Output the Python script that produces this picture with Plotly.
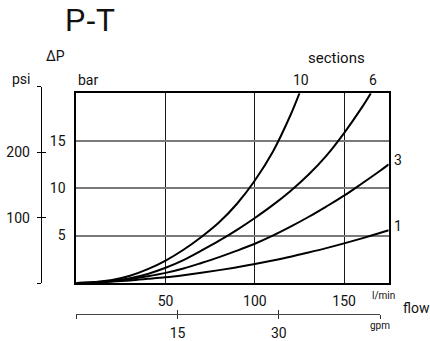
import plotly.graph_objects as go

W, H = 430, 341

# ---- data ----
flow = [0, 10, 20, 30, 40, 50, 60, 70, 80, 90, 100, 110, 120, 130, 140, 150, 160, 170, 175]
sec1 = [0, 0.06, 0.15, 0.27, 0.43, 0.6, 0.82, 1.07, 1.35, 1.66, 2.0, 2.37, 2.77, 3.21, 3.67, 4.17, 4.7, 5.26, 5.55]
sec3 = [0, 0.05, 0.18, 0.4, 0.7, 1.06, 1.52, 2.1, 2.72, 3.4, 4.13, 4.98, 5.93, 6.95, 8.05, 9.2, 10.48, 11.8, 12.5]
flow6 = [0, 10, 20, 30, 40, 50, 60, 70, 80, 90, 100, 110, 120, 130, 140, 150, 160, 165]
sec6 = [0, 0.05, 0.2, 0.5, 0.95, 1.6, 2.4, 3.4, 4.45, 5.6, 6.85, 8.2, 9.7, 11.4, 13.4, 15.8, 18.5, 20]
flow10 = [0, 10, 20, 30, 40, 50, 60, 70, 80, 90, 100, 110, 120, 125]
sec10 = [0, 0.08, 0.3, 0.75, 1.45, 2.36, 3.5, 4.85, 6.4, 8.35, 10.8, 13.8, 17.7, 20]

series = [("10", flow10, sec10), ("6", flow6, sec6), ("3", flow, sec3), ("1", flow, sec1)]

bar_ticks = [5, 10, 15]
flow_ticks = [50, 100, 150]
psi_ticks = [0, 100, 200, 300]
psi_text = ["", "100", "200", ""]
gpm_ticks = [0, 15, 30, 45]
gpm_text = ["", "15", "30", ""]

FONT = "Liberation Sans Narrow, Roboto, sans-serif"
TXT = "#111"

def px(x):
    return x / W

def py(y):
    return 1 - y / H

fig = go.Figure()
for name, xs, ys in series:
    fig.add_trace(go.Scatter(x=xs, y=ys, mode="lines", line=dict(color="black", width=2, shape="spline"),
                             showlegend=False, hoverinfo="skip", cliponaxis=True))

# dummy traces to carry the secondary (psi / gpm) scales
fig.add_trace(go.Scatter(x=[None], y=[None], xaxis="x2", yaxis="y2", showlegend=False, hoverinfo="skip"))
fig.add_trace(go.Scatter(x=[None], y=[None], xaxis="x3", yaxis="y3", showlegend=False, hoverinfo="skip"))

x_dom = [px(76.4), px(388.7)]
y_dom = [py(286.3), py(94.3)]

fig.update_layout(
    width=W, height=H, margin=dict(l=0, r=0, t=0, b=0),
    paper_bgcolor="white", plot_bgcolor="rgba(0,0,0,0)",
    font=dict(family=FONT, color=TXT, size=14),
    xaxis=dict(domain=x_dom, range=[0, 175], tickvals=flow_ticks, showgrid=True, gridcolor="#1a1a1a",
               gridwidth=1, showline=True, linecolor="black", linewidth=2, mirror=True, ticks="",
               zeroline=False, tickfont=dict(size=14, family=FONT, color=TXT), ticklabelstandoff=4,
               fixedrange=True),
    yaxis=dict(domain=y_dom, range=[0, 20], tickvals=bar_ticks, showgrid=True, gridcolor="#7a7a7a",
               gridwidth=2, showline=True, linecolor="black", linewidth=2, mirror=True, ticks="",
               zeroline=False, tickfont=dict(size=14, family=FONT, color=TXT), ticklabelstandoff=6,
               fixedrange=True),
    # psi scale
    yaxis2=dict(domain=[py(286.7), py(88)], range=[0, 300], anchor="free", position=px(40.7),
                tickvals=psi_ticks, ticktext=psi_text, ticks="outside", ticklen=4, tickwidth=1,
                tickcolor="black", showline=True, linecolor="black", linewidth=1, showgrid=False,
                zeroline=False, tickfont=dict(size=14, family=FONT, color=TXT), ticklabelstandoff=4),
    yaxis3=dict(domain=[py(286.7), py(88)], range=[0, 300], anchor="free", position=px(40.7),
                overlaying="y2", tickvals=psi_ticks, showticklabels=False, ticks="inside", ticklen=4,
                tickwidth=1, tickcolor="black", showline=False, showgrid=False, zeroline=False),
    # gpm scale
    xaxis2=dict(domain=[px(76.4), px(380)], range=[0, 45], anchor="free", position=py(317.7),
                tickvals=gpm_ticks, ticktext=gpm_text, ticks="outside", ticklen=4, tickwidth=1,
                tickcolor="#333", showline=True, linecolor="#444", linewidth=1, showgrid=False,
                zeroline=False, tickfont=dict(size=14, family=FONT, color=TXT), ticklabelstandoff=2),
    xaxis3=dict(domain=[px(76.4), px(380)], range=[0, 45], anchor="free", position=py(317.7),
                overlaying="x2", tickvals=gpm_ticks, showticklabels=False, ticks="inside", ticklen=4,
                tickwidth=1, tickcolor="#333", showline=False, showgrid=False, zeroline=False),
)

ann = []
def add_paper(text, x, y, size=14, xanchor="center", family=FONT):
    ann.append(dict(text=text, x=px(x), y=py(y), xref="paper", yref="paper", showarrow=False,
                    xanchor=xanchor, yanchor="middle", font=dict(size=size, family=family, color=TXT)))

add_paper("P-T", 90, 21, size=31, family="Liberation Sans, Arial, sans-serif")
add_paper("ΔP", 55.5, 57, size=14)
add_paper("psi", 21, 80, size=14)
add_paper("bar", 76, 81, size=14, xanchor="left")
add_paper("sections", 336, 59, size=15)
add_paper("l/min", 383, 299, size=10)
add_paper("gpm", 380, 329, size=10)
add_paper("flow", 401, 312, size=14, xanchor="left")

# curve labels at the curve ends
for name, xs, ys in series:
    if ys[-1] >= 20:
        ann.append(dict(text=name, x=xs[-1], y=ys[-1], xref="x", yref="y", showarrow=False,
                        xanchor="center", yanchor="bottom", yshift=3, xshift=2,
                        font=dict(size=14, family=FONT, color=TXT)))
    else:
        ann.append(dict(text=name, x=xs[-1], y=ys[-1], xref="x", yref="y", showarrow=False,
                        xanchor="left", yanchor="middle", xshift=3, yshift=4,
                        font=dict(size=14, family=FONT, color=TXT)))

fig.update_layout(annotations=ann)
fig.write_html("out.html", config={"displayModeBar": False},
               post_script="document.body.style.margin='0';document.body.style.padding='0';")
